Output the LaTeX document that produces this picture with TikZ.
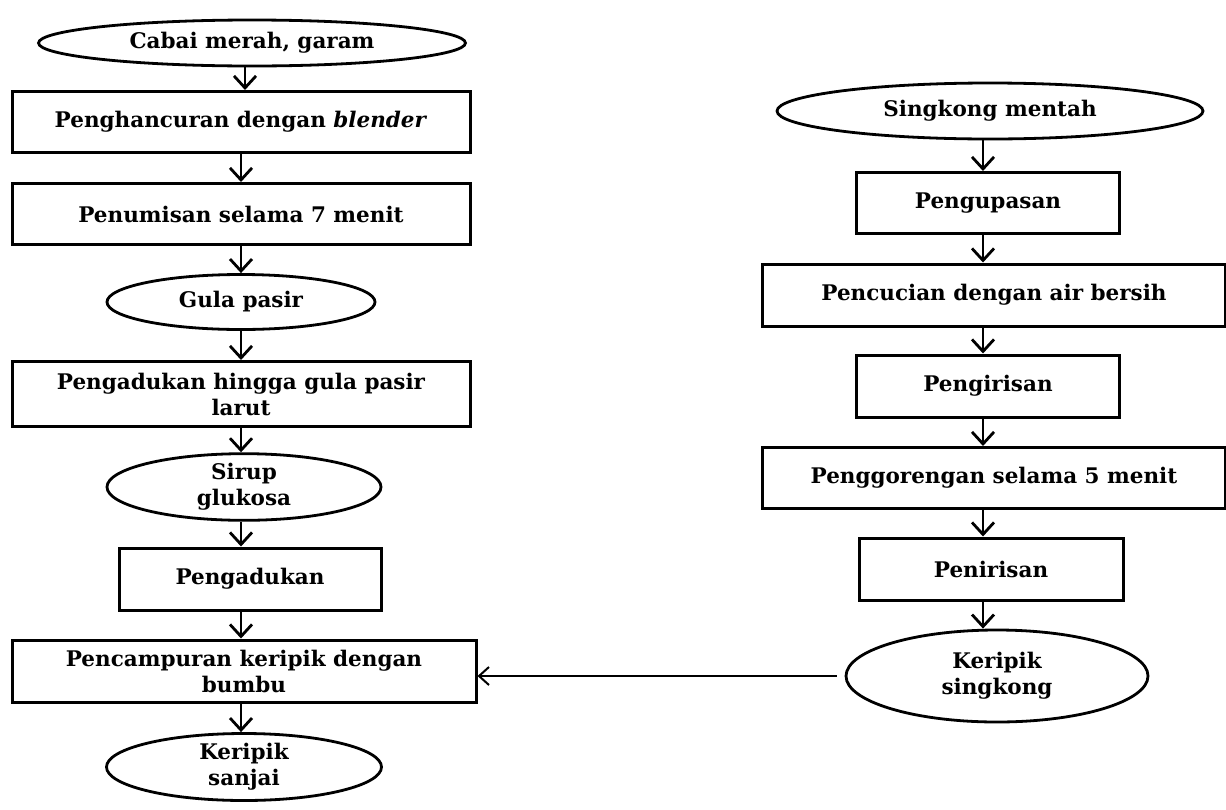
\documentclass[tikz,border=0pt]{standalone}
\usepackage{fontspec}
\setmainfont{DejaVu Serif}
\usetikzlibrary{shapes.geometric,arrows.meta}
\begin{document}
\begin{tikzpicture}[x=1pt, y=-1pt,
    every node/.style={font=\fontsize{21.5}{26}\selectfont\bfseries, align=center, inner sep=0pt},
    proses/.style={draw, line width=3pt, rectangle},
    bahan/.style={draw, line width=2.8pt, ellipse},
    panah/.style={-{Straight Barb[length=12pt,width=22pt,line width=2.8pt]}, line width=2.8pt}]

        \useasboundingbox (0,0) rectangle (1226,809);

        % kolom kiri: bumbu
        \node[bahan, minimum width=427, minimum height=46] (A) at (252,43) {Cabai merah, garam};
        \node[proses, minimum width=458, minimum height=61] (B) at (241,122) {Penghancuran dengan \textit{blender}};
        \node[proses, minimum width=458, minimum height=61] (C) at (241,214) {Penumisan selama 7 menit};
        \node[bahan, minimum width=268, minimum height=55] (D) at (241,302) {Gula pasir};
        \node[proses, minimum width=458, minimum height=65] (E) at (241,394) {Pengadukan hingga gula pasir\\larut};
        \node[bahan, minimum width=274, minimum height=60] (F) at (244,487) {Sirup\\glukosa};
        \node[proses, minimum width=262, minimum height=62] (G) at (250,579) {Pengadukan};
        \node[proses, minimum width=464, minimum height=62] (H) at (244,671) {Pencampuran keripik dengan\\bumbu};
        \node[bahan, minimum width=275, minimum height=67] (I) at (244,767) {Keripik\\sanjai};

        % kolom kanan: keripik
        \node[bahan, minimum width=426, minimum height=56] (J) at (990,111) {Singkong mentah};
        \node[proses, minimum width=263, minimum height=61] (K) at (988,203) {Pengupasan};
        \node[proses, minimum width=463, minimum height=62] (L) at (994,295) {Pencucian dengan air bersih};
        \node[proses, minimum width=263, minimum height=62] (M) at (988,386) {Pengirisan};
        \node[proses, minimum width=463, minimum height=61] (N) at (994,478) {Penggorengan selama 5 menit};
        \node[proses, minimum width=264, minimum height=62] (O) at (991,569) {Penirisan};
        \node[bahan, minimum width=302, minimum height=92] (P) at (997,676) {Keripik\\singkong};

        \draw[panah] (A.south -| 245,0) to (B.north -| 245,0);
        \draw[panah] (B) to (C);
        \draw[panah] (C) to (D);
        \draw[panah] (D) to (E);
        \draw[panah] (E) to (F.north -| E.south);
        \draw[panah] (F.south -| E.south) to (G.north -| E.south);
        \draw[panah] (G.south -| E.south) to (H.north -| E.south);
        \draw[panah] (H.south -| E.south) to (I.north -| E.south);

        \draw[panah] (J.south -| 983,0) to (K.north -| 983,0);
        \draw[panah] (K.south -| 983,0) to (L.north -| 983,0);
        \draw[panah] (L.south -| 983,0) to (M.north -| 983,0);
        \draw[panah] (M.south -| 983,0) to (N.north -| 983,0);
        \draw[panah] (N.south -| 983,0) to (O.north -| 983,0);
        \draw[panah] (O.south -| 983,0) to (P.north -| 983,0);

        \draw[-{Straight Barb[length=10pt,width=18pt,line width=2pt]}, line width=2pt, shorten <=8pt] (P.west) to (H.east |- P.west);

        \end{tikzpicture}
\end{document}
